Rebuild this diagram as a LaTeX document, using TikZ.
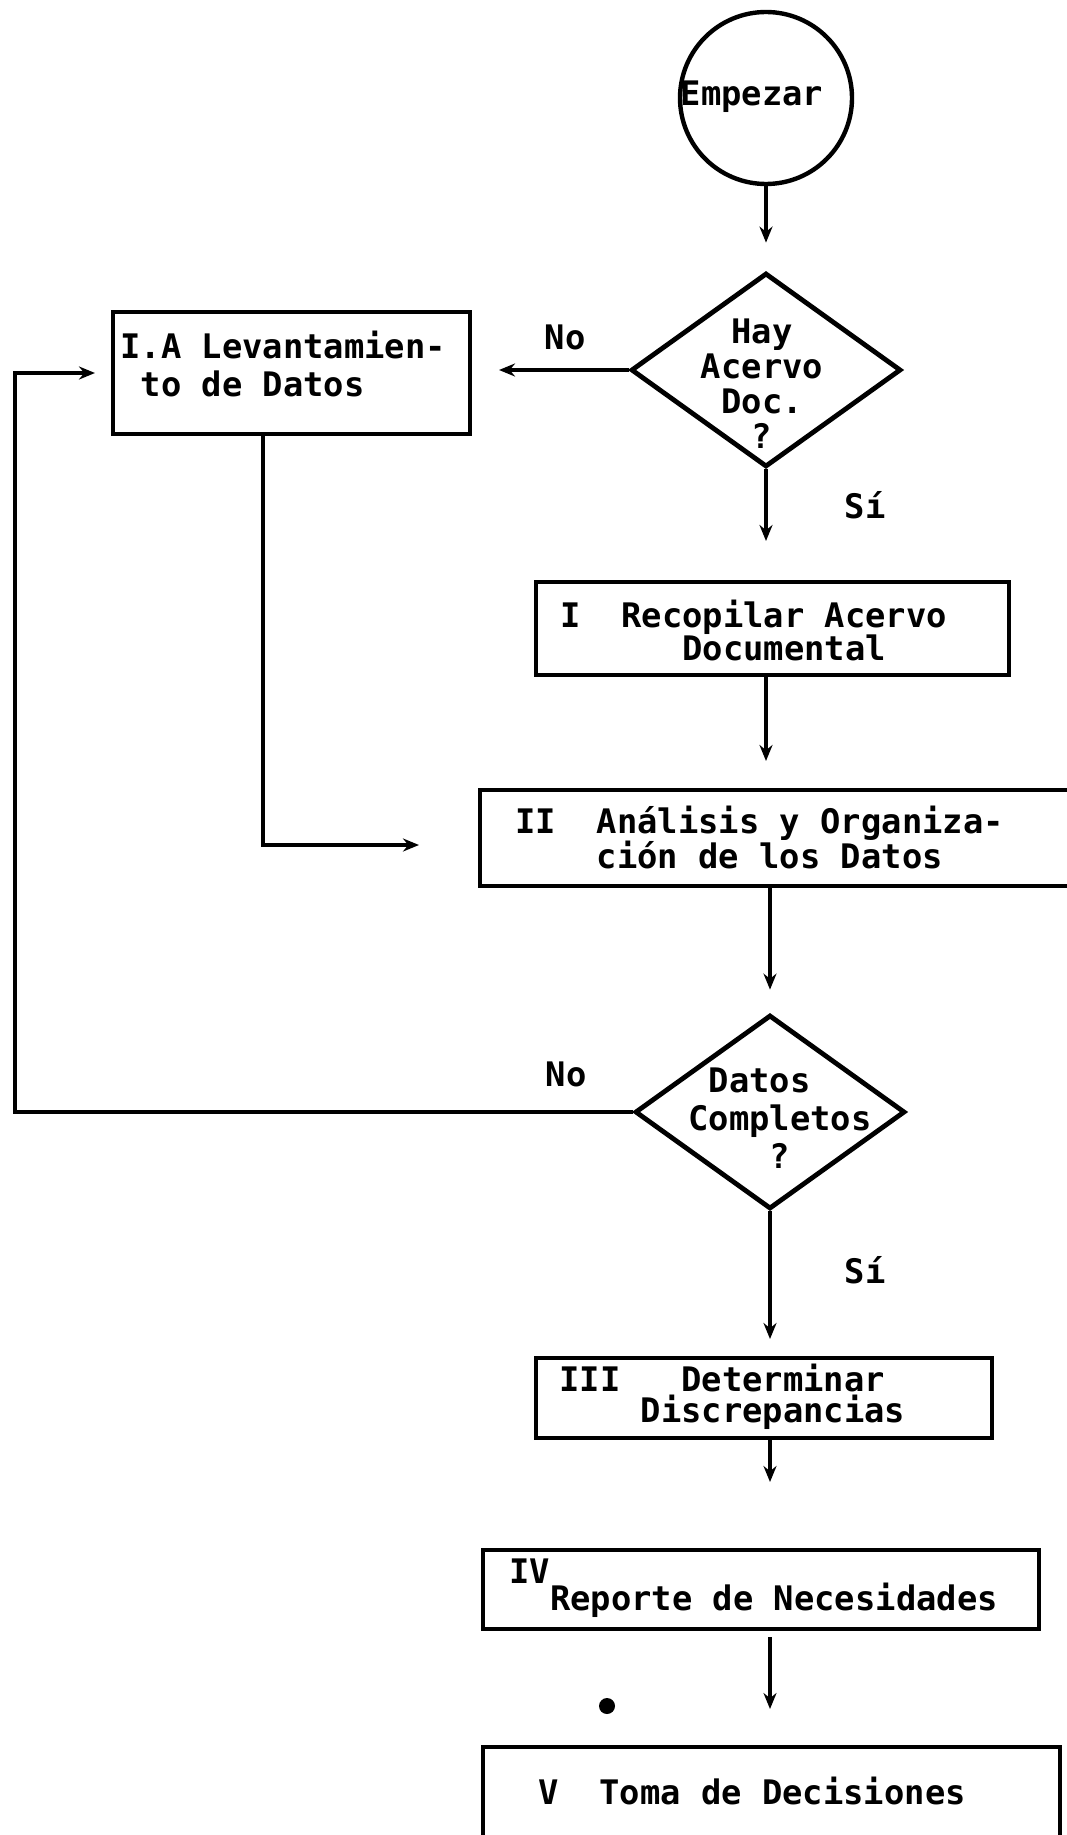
\documentclass[tikz,border=0pt]{standalone}
\usepackage{fontspec}
\setmonofont{DejaVu Sans Mono}
\usetikzlibrary{shapes.geometric, arrows.meta}
\begin{document}
\begin{tikzpicture}[x=0.5pt, y=-0.5pt,
  txt/.style={font=\ttfamily\bfseries\fontsize{16.9}{17.5}\selectfont, inner sep=0pt},
  box/.style={draw, line width=2pt, rectangle, inner sep=0pt},
  dia/.style={draw, line width=2.4pt, diamond, inner sep=0pt, minimum width=135pt, minimum height=97pt},
  arr/.style={line width=1.8pt, -{Stealth[length=8pt, width=6.5pt]}}]
\useasboundingbox (0,0) rectangle (1066,1835);
% shapes
\node[draw, circle, line width=2.2pt, minimum size=86pt, inner sep=0pt] (start) at (766,98) {};
\node[dia] (d1) at (766,370) {};
\node[box, minimum width=178.5pt, minimum height=61pt] (IA) at (291.5,373) {};
\node[box, minimum width=236.5pt, minimum height=46.5pt] (b1) at (772.5,628.5) {};
\node[box, minimum width=302.5pt, minimum height=48pt] (b2) at (782.5,838) {};
\node[dia] (d2) at (770,1112) {};
\node[box, minimum width=228pt, minimum height=40pt] (b3) at (764,1398) {};
\node[box, minimum width=278pt, minimum height=39.5pt] (b4) at (761,1589.5) {};
\node[box, minimum width=288.5pt, minimum height=60pt] (b5) at (771.5,1807) {};
\node[circle, fill, minimum size=8pt, inner sep=0pt] (dot) at (607,1706) {};
% texts
\node[txt] (tStart) at (752,97) {Empezar};
\node[txt, align=center] (tD1) at (762,384) {Hay\\Acervo\\Doc.\\?};
\node[txt, align=left, anchor=west, font=\ttfamily\bfseries\fontsize{16.9}{19}\selectfont] (tIA) at (120,364) {I.A Levantamien-\\\phantom{x}to de Datos};
\node[txt, align=left, anchor=west, font=\ttfamily\bfseries\fontsize{16.9}{16.5}\selectfont] (tb1) at (560,630) {I~~Recopilar Acervo\\\phantom{xxxxxx}Documental};
\node[txt, align=left, anchor=west] (tb2) at (515,837) {II~~Análisis y Organiza-\\\phantom{xxxx}ción de los Datos};
\node[txt, align=left, anchor=west, font=\ttfamily\bfseries\fontsize{16.9}{19}\selectfont] (td2) at (688,1118) {\phantom{x}Datos\\Completos\\\phantom{xxxx}?};
\node[txt, align=left, anchor=west, font=\ttfamily\bfseries\fontsize{16.9}{15.5}\selectfont] (tb3) at (559,1397) {III~~~Determinar\\\phantom{xxxx}Discrepancias};
\node[txt, anchor=base west] (tb4) at (509,1610) {\raisebox{13.5pt}{IV}Reporte de Necesidades};
\node[txt, anchor=base west] (tb5) at (538,1804) {V~~Toma de Decisiones};
\node[txt] (no1) at (565,337) {No};
\node[txt] (si1) at (865,505) {Sí};
\node[txt] (no2) at (566,1074) {No};
\node[txt] (si2) at (865,1270) {Sí};
% connectors
\coordinate (lp) at (15,0);
\draw[arr, shorten >=14pt] (start.south) -- (d1.north);
\draw[arr, shorten >=13.5pt] (d1.west) -- (d1.west -| IA.east);
\draw[arr, shorten >=19.5pt] (d1.south) -- (d1.south |- b1.north);
\draw[arr, shorten >=13.5pt] (d1.south |- b1.south) -- (d1.south |- b2.north);
\draw[arr] ([xshift=-14.25pt]IA.south) |- ([xshift=-29.5pt,yshift=-3.5pt]b2.west);
\draw[arr, shorten >=11.5pt] (d2.north |- b2.south) -- (d2.north);
\draw[arr, shorten >=8pt] (d2.west) -- (d2.west -| lp) |- (IA.west);
\draw[arr, shorten >=8.5pt] (d2.south) -- (d2.south |- b3.north);
\draw[arr, shorten >=33pt] (d2.south |- b3.south) -- (d2.south |- b4.north);
\draw[arr, shorten <=3pt, shorten >=18pt] (d2.south |- b4.south) -- (d2.south |- b5.north);
\end{tikzpicture}
\end{document}
